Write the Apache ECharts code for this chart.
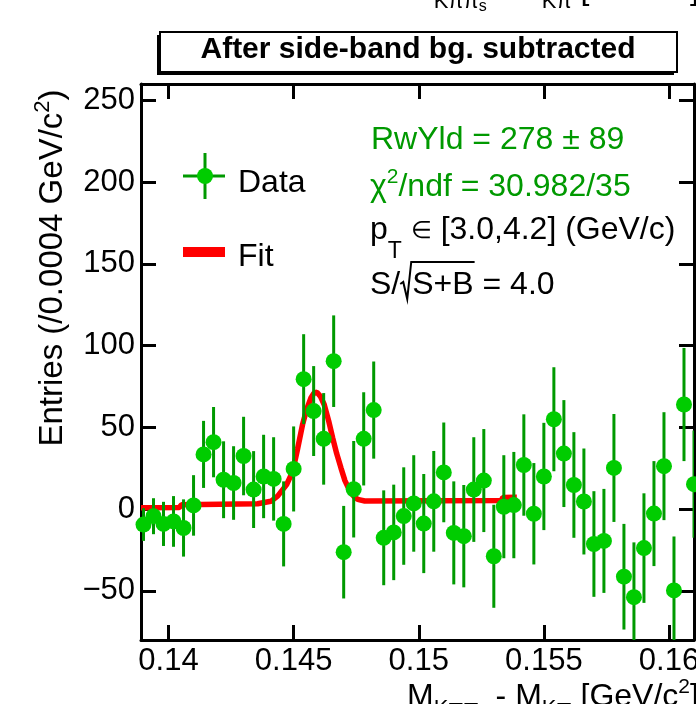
<!DOCTYPE html>
<html>
<head>
<meta charset="utf-8">
<script src="https://cdn.jsdelivr.net/npm/echarts@6/dist/echarts.min.js"></script>
<style>
  html, body { margin: 0; padding: 0; background: #fff; }
  #chart { width: 696px; height: 704px; }
</style>
</head>
<body>
<div id="chart"></div>
<script>
/* =========================================
   1. DATA
   ========================================= */
const binWidth = 0.0004;       // GeV/c^2, from the axis title
const firstBinCenter = 0.1390;

const counts = [
  -9.4, -4.3, -9.0, -7.5, -11.5, 2.3, 33.5, 41.0, 18.0, 16.0,
  32.5, 12.0, 20.0, 18.5, -9.0, 24.6, 79.5, 60.0, 43.0, 90.5,
  -26.3, 12.2, 43.0, 60.6, -17.5, -14.2, -4.2, 3.5, -8.8, 4.8,
  22.5, -14.5, -16.5, 12.0, 17.5, -28.8, 1.5, 2.5, 27.0, -2.8,
  20.0, 55.0, 34.0, 14.8, 4.7, -21.3, -19.4, 25.2, -41.3, -53.8,
  -23.8, -2.7, 26.3, -49.7, 64.0, 15.3
];
const errors = [
  10.0, 11.0, 13.5, 15.5, 17.5, 18.5, 20.5, 21.5, 23.5, 22.5,
  24.0, 23.5, 25.5, 25.5, 26.0, 26.0, 27.5, 27.5, 28.0, 28.0,
  28.3, 29.5, 28.5, 29.7, 29.0, 29.2, 29.8, 29.5, 30.3, 30.8,
  30.5, 31.5, 31.3, 32.0, 31.5, 31.5, 31.5, 32.5, 31.0, 31.0,
  32.8, 31.8, 32.7, 32.3, 32.4, 32.3, 31.8, 33.0, 32.3, 33.5,
  33.5, 32.1, 33.0, 33.0, 34.6, 32.8
];

// fit curve as drawn (x in GeV/c^2, y in entries)
const fitX = [
  0.1389, 0.14043, 0.14052, 0.14356, 0.14409, 0.14436, 0.14472, 0.14496,
  0.14516, 0.14536, 0.14552, 0.14569, 0.14581, 0.14593, 0.14607, 0.14622,
  0.14640, 0.14656, 0.14672, 0.14689, 0.14705, 0.14722, 0.14740, 0.14756,
  0.14784, 0.15330, 0.15336, 0.15392
];
const fitY = [
  0.9, 1.0, 2.7, 3.3, 4.8, 8.0, 15.0, 23.0,
  37.0, 52.0, 61.0, 68.0, 71.0, 71.5, 69.0, 64.0,
  54.0, 43.6, 34.0, 25.3, 17.5, 12.0, 8.0, 6.0,
  5.0, 5.3, 7.2, 7.3
];

const xTicks = [0.14, 0.145, 0.15, 0.155, 0.16];
const yTicks = [-50, 0, 50, 100, 150, 200, 250];

const FONT = "'Liberation Sans', Arial, Helvetica, sans-serif";
const DOT_GREEN = "#00cc00";
const BAR_GREEN = "#009900";
const TEXT_GREEN = "#009900";

/* =========================================
   2. SMALL TEXT HELPERS (sub/superscripts)
   ========================================= */
const measureCtx = document.createElement("canvas").getContext("2d");
function textWidth(text, font) {
  measureCtx.font = font;
  return measureCtx.measureText(text).width;
}

// parts: [text, fontSize, baselineShift]; returns graphic text elements
function textRun(parts, x, baseY, color, weight) {
  const els = [];
  let cx = x;
  parts.forEach(([t, size, dy]) => {
    const font = `${weight || "normal"} ${size}px ${FONT}`;
    els.push({
      type: "text",
      x: cx,
      y: baseY + dy - 0.31 * size,
      style: { text: t, font: font, fill: color, align: "left", verticalAlign: "middle" },
    });
    cx += textWidth(t, font);
  });
  return els;
}

function runWidth(parts) {
  return parts.reduce((w, [t, size]) => w + textWidth(t, `normal ${size}px ${FONT}`), 0);
}

/* =========================================
   3. CHART
   ========================================= */
function initChart() {
  const dom = document.getElementById("chart");
  const chart = echarts.init(dom, null, { renderer: "canvas" });

  const centers = counts.map((_, i) => +(firstBinCenter + i * binWidth).toFixed(4));
  const points = centers.map((x, i) => [x, counts[i]]);
  const bars = centers.map((x, i) => [x, counts[i] - errors[i], counts[i] + errors[i]]);
  const fit = fitX.map((x, i) => [x, fitY[i]]);

  const xMin = 0.1389, xMax = 0.1610, yMin = -80, yMax = 260;

  const tickStyle = { inside: true, length: 15, lineStyle: { color: "#000", width: 3 } };
  const lineStyle = { show: true, onZero: false, lineStyle: { color: "#000", width: 3 } };

  // axis titles
  const xTitle = [
    ["M", 32, 0], ["K\u03c0\u03c0", 22, 9], ["s", 16, 12],
    [" - M", 32, 0], ["K\u03c0", 22, 9],
    [" [GeV/c", 32, 0], ["2", 21, -13], ["]", 32, 0],
  ];
  const yTitle = [["Entries (/0.0004 GeV/c", 33, 0], ["2", 22, -13], [")", 33, 0]];
  const yTitleLen = runWidth(yTitle);

  // S/sqrt(S+B) line: radical drawn as a stroke
  const sPrefix = "S/";
  const sxStart = 370;
  const sxRad = sxStart + textWidth(sPrefix, `normal 32px ${FONT}`);
  const sxIn = sxRad + 12;
  const sxInEnd = sxIn + textWidth("S+B", `normal 32px ${FONT}`);

  const graphics = [
    // title pave with shadow
    { type: "rect", shape: { x: 157, y: 35, width: 517, height: 40 }, style: { fill: "#000" } },
    { type: "rect", shape: { x: 160, y: 32, width: 517, height: 40 },
      style: { fill: "#fff", stroke: "#000", lineWidth: 2 } },
    { type: "text", x: 418, y: 50,
      style: { text: "After side-band bg. subtracted", font: `bold 30px ${FONT}`,
               fill: "#000", align: "center", verticalAlign: "middle" } },

    // legend: Data
    { type: "line", shape: { x1: 183, y1: 176, x2: 225, y2: 176 }, style: { stroke: BAR_GREEN, lineWidth: 3 } },
    { type: "line", shape: { x1: 205, y1: 153, x2: 205, y2: 199 }, style: { stroke: BAR_GREEN, lineWidth: 3 } },
    { type: "circle", shape: { cx: 205, cy: 176, r: 8 }, style: { fill: DOT_GREEN } },
    ...textRun([["Data", 32, 0]], 238, 193, "#000"),
    // legend: Fit
    { type: "rect", shape: { x: 183, y: 247, width: 42, height: 10 }, style: { fill: "#ff0000" } },
    ...textRun([["Fit", 32, 0]], 238, 267, "#000"),

    // fit results
    ...textRun([["RwYld = 278 \u00b1 89", 32, 0]], 371, 150, TEXT_GREEN),
    ...textRun([["\u03c7", 32, 0], ["2", 21, -13], ["/ndf = 30.982/35", 32, 0]], 370, 197, TEXT_GREEN),
    ...textRun([["p", 32, 0], ["T", 23, 19], [" ", 32, 0], ["\u2208", 24, -1], [" [3.0,4.2] (GeV/c)", 32, 0]],
               370, 240, "#000"),
    ...textRun([[sPrefix, 32, 0]], sxStart, 295, "#000"),
    { type: "polyline",
      shape: { points: [[sxRad, 284], [sxRad + 3, 282], [sxRad + 7, 299], [sxIn - 1, 262], [sxInEnd + 1, 262]] },
      style: { stroke: "#000", lineWidth: 2, fill: null } },
    ...textRun([["S+B = 4.0", 32, 0]], sxIn, 295, "#000"),

    // x-axis title (cut by the bottom edge) and the same title of the pad above
    ...textRun(xTitle, 407, 707, "#000"),
    ...textRun(xTitle, 407, 0, "#000"),

    // y-axis title, rotated
    { type: "group", x: 63, y: 268 + yTitleLen / 2, rotation: Math.PI / 2,
      children: textRun(yTitle, 0, 0, "#000") },
  ];

  const option = {
    animation: false,
    backgroundColor: "#fff",
    grid: { left: 141, right: 2, top: 84, bottom: 64, outerBoundsMode: "none" },
    xAxis: [
      {
        type: "value", position: "bottom", min: xMin, max: xMax,
        axisLine: lineStyle,
        axisTick: { ...tickStyle, customValues: xTicks },
        axisLabel: {
          customValues: xTicks, margin: 6, color: "#000", fontSize: 31, fontFamily: FONT,
          formatter: (v) => String(parseFloat(v.toFixed(4))),
        },
        splitLine: { show: false },
      },
      {
        type: "value", position: "top", min: xMin, max: xMax,
        axisLine: lineStyle,
        axisTick: { ...tickStyle, customValues: xTicks },
        axisLabel: { show: false },
        splitLine: { show: false },
      },
    ],
    yAxis: [
      {
        type: "value", position: "left", min: yMin, max: yMax,
        axisLine: lineStyle,
        axisTick: { ...tickStyle, customValues: yTicks },
        axisLabel: {
          customValues: yTicks, margin: 6, color: "#000", fontSize: 31, fontFamily: FONT,
          formatter: (v) => String(v).replace("-", "\u2212"),
        },
        splitLine: { show: false },
      },
      {
        type: "value", position: "right", min: yMin, max: yMax,
        axisLine: lineStyle,
        axisTick: { ...tickStyle, customValues: yTicks },
        axisLabel: { show: false },
        splitLine: { show: false },
      },
    ],
    series: [
      {
        name: "Fit",
        type: "line",
        data: fit,
        showSymbol: false,
        smooth: false,
        lineStyle: { color: "#ff0000", width: 5.5 },
        z: 2,
      },
      {
        name: "Errors",
        type: "custom",
        data: bars,
        clip: true,
        encode: { x: 0, y: [1, 2] },
        renderItem: (params, api) => {
          const lo = api.coord([api.value(0), api.value(1)]);
          const hi = api.coord([api.value(0), api.value(2)]);
          return {
            type: "line",
            shape: { x1: lo[0], y1: lo[1], x2: hi[0], y2: hi[1] },
            style: { stroke: BAR_GREEN, lineWidth: 3 },
          };
        },
        z: 3,
      },
      {
        name: "Data",
        type: "scatter",
        data: points,
        symbol: "circle",
        symbolSize: 16,
        clip: false,
        itemStyle: { color: DOT_GREEN, opacity: 1 },
        z: 4,
      },
    ],
    graphic: graphics,
  };

  chart.setOption(option);
  window.addEventListener("resize", () => chart.resize());
}

document.addEventListener("DOMContentLoaded", () => {
  initChart();
});
</script>
</body>
</html>
